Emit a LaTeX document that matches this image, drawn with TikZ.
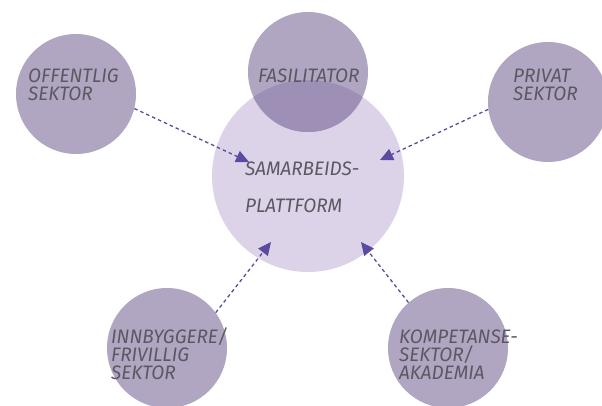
\documentclass[tikz,border=0pt]{standalone}
\usepackage{fontspec}
\usetikzlibrary{arrows.meta}
\newfontfamily\lbl{Fira Sans}[FakeStretch=0.97]
\definecolor{outerc}{RGB}{176,166,194}
\definecolor{innerc}{RGB}{221,211,232}
\definecolor{overc}{RGB}{158,143,182}
\definecolor{arrc}{RGB}{90,74,160}
\definecolor{txtc}{RGB}{92,88,98}
\begin{document}
\begin{tikzpicture}[x=1pt,y=-1pt,
  sector/.style={circle,fill=outerc,minimum size=120pt,inner sep=0pt},
  hub/.style={circle,fill=innerc,minimum size=192pt,inner sep=0pt},
  lab/.style={anchor=base west,inner sep=0pt,align=left,text=txtc,font=\lbl\itshape\fontsize{19.5}{18}\selectfont},
  hublab/.style={lab,font=\lbl\itshape\fontsize{19.5}{37}\selectfont},
  conn/.style={draw=arrc,line width=1.3pt,dash pattern=on 3.5pt off 3pt,-{Triangle[length=13pt,width=12pt]}}]
\useasboundingbox (0,0) rectangle (602,405);
\clip (0,0) rectangle (602,405);
\node[hub] (hub) at (308,176) {};
\node[sector] (fas) at (308,72) {};
\begin{scope}
  \clip (hub.center) circle[radius=96pt];
  \fill[overc] (fas.center) circle[radius=60pt];
\end{scope}
\node[sector] (off) at (76,94) {};
\node[sector] (priv) at (548,102) {};
\node[sector] (inn) at (167,348) {};
\node[sector] (komp) at (448,348) {};
\node[lab] (toff) at (28,100) {OFFENTLIG\\SEKTOR};
\node[lab] (tfas) at (258,82) {FASILITATOR};
\node[lab] (tpriv) at (513,100) {PRIVAT\\SEKTOR};
\node[hublab] (thub) at (245,212) {SAMARBEIDS-\\PLATTFORM};
\node[lab] (tinn) at (111,379) {INNBYGGERE/\\FRIVILLIG\\SEKTOR};
\node[lab] (tkomp) at (399,379) {KOMPETANSE-\\SEKTOR/\\AKADEMIA};
\coordinate (tA) at (249,162);
\coordinate (tB) at (380,160);
\coordinate (tC) at (271,242);
\coordinate (tD) at (361,242);
\draw[conn] (off.-14) -- (tA);
\draw[conn] (priv.187) -- (tB);
\draw[conn] (inn.36) -- (tC);
\draw[conn] (komp.131) -- (tD);
\end{tikzpicture}
\end{document}
